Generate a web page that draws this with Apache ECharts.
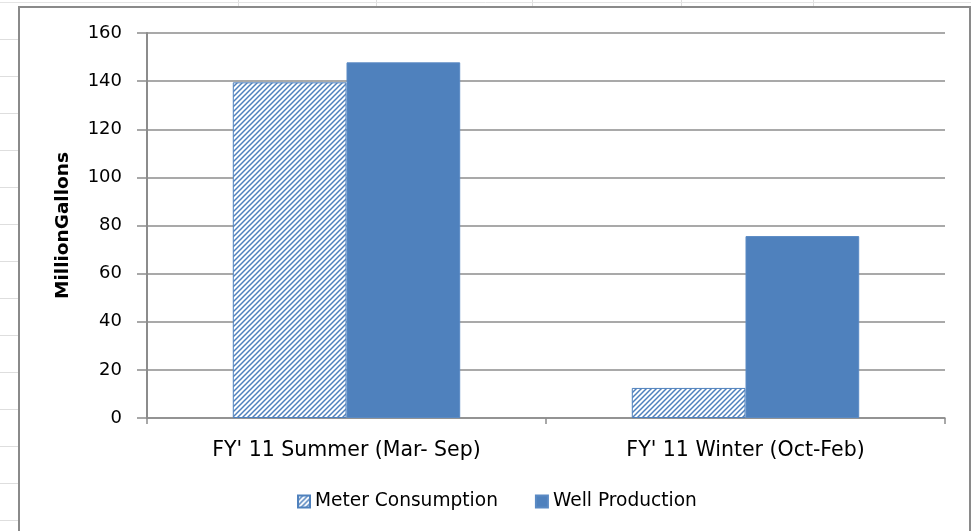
<!DOCTYPE html>
<html>
<head>
<meta charset="utf-8">
<script src="https://cdn.jsdelivr.net/npm/echarts@6/dist/echarts.min.js"></script>
<style>
  html, body { margin: 0; padding: 0; background: #fff; }
  #chart { width: 971px; height: 531px; }
</style>
</head>
<body>
<div id="chart"></div>
<script>
// Seasonal water volumes, million gallons
const categories = ['FY\' 11 Summer (Mar- Sep)', 'FY\' 11 Winter (Oct-Feb)'];
const meterConsumption = [139.5, 12.5];
const wellProduction = [147.8, 75.6];
const yTicks = { min: 0, max: 160, interval: 20 };

const BLUE = '#4F81BD';
const GRID_GRAY = '#8c8c8c';
const FONT = 'DejaVu Sans';

// Diagonal hatch tile (///) for the metered series
function hatchPattern() {
  const s = 5;
  const c = document.createElement('canvas');
  c.width = s; c.height = s;
  const g = c.getContext('2d');
  g.fillStyle = '#ffffff';
  g.fillRect(0, 0, s, s);
  g.strokeStyle = BLUE;
  g.lineWidth = 1.5;
  g.beginPath();
  g.moveTo(-1, s + 1); g.lineTo(s + 1, -1);
  g.moveTo(-1, 1); g.lineTo(1, -1);
  g.moveTo(s - 1, s + 1); g.lineTo(s + 1, s - 1);
  g.stroke();
  return { image: c, repeat: 'repeat' };
}

// Faint worksheet cell lines around the chart frame
const sheetLines = [];
for (let y = 2; y < 531; y += 37) {
  sheetLines.push({ type: 'line', shape: { x1: 0, y1: y + 0.5, x2: 18, y2: y + 0.5 },
    style: { stroke: '#dedede', lineWidth: 1 }, silent: true });
}
[238, 376, 532, 681, 813].forEach(function (x) {
  sheetLines.push({ type: 'line', shape: { x1: x + 0.5, y1: 0, x2: x + 0.5, y2: 6 },
    style: { stroke: '#dedede', lineWidth: 1 }, silent: true });
});
sheetLines.push({ type: 'line', shape: { x1: 0, y1: 2.5, x2: 971, y2: 2.5 },
  style: { stroke: '#e4e4e4', lineWidth: 1 }, silent: true });

const chart = echarts.init(document.getElementById('chart'));
chart.setOption({
  animation: false,
  backgroundColor: '#ffffff',
  graphic: sheetLines.concat([
    { type: 'rect', shape: { x: 19, y: 7, width: 951, height: 530 },
      style: { fill: 'none', stroke: '#8a8a8a', lineWidth: 2 }, silent: true, z: 10 }
  ]),
  grid: { left: 147, right: 26, top: 33, bottom: 113, containLabel: false },
  legend: {
    bottom: 15,
    left: 292,
    itemWidth: 12,
    itemHeight: 12,
    itemGap: 37,
    icon: 'rect',
    textStyle: { fontFamily: FONT, fontSize: 18.6, color: '#000' },
    data: ['Meter Consumption', 'Well Production']
  },
  xAxis: {
    type: 'category',
    data: categories,
    boundaryGap: true,
    axisLine: { lineStyle: { color: GRID_GRAY, width: 1.5 } },
    axisTick: { show: true, alignWithLabel: false, length: 6, lineStyle: { color: GRID_GRAY, width: 1.5 } },
    axisLabel: { margin: 22, fontFamily: FONT, fontSize: 20.5, color: '#000' }
  },
  yAxis: {
    type: 'value',
    min: yTicks.min,
    max: yTicks.max,
    interval: yTicks.interval,
    name: 'MillionGallons',
    nameLocation: 'middle',
    nameGap: 74,
    nameTextStyle: { fontFamily: FONT, fontSize: 18.5, fontWeight: 'bold', color: '#000' },
    axisLine: { show: true, lineStyle: { color: GRID_GRAY, width: 2 } },
    axisTick: { show: true, inside: false, length: 10, lineStyle: { color: GRID_GRAY, width: 1.5 } },
    axisLabel: { margin: 25, fontFamily: FONT, fontSize: 18, color: '#000' },
    splitLine: { show: true, lineStyle: { color: GRID_GRAY, width: 1.5 } }
  },
  series: [
    {
      name: 'Meter Consumption',
      type: 'bar',
      data: meterConsumption,
      barGap: '0%',
      barCategoryGap: '43%',
      itemStyle: { color: hatchPattern(), borderColor: BLUE, borderWidth: 1 }
    },
    {
      name: 'Well Production',
      type: 'bar',
      data: wellProduction,
      barGap: '0%',
      barCategoryGap: '43%',
      itemStyle: { color: BLUE, borderColor: '#5a8ac4', borderWidth: 1 }
    }
  ]
});
</script>
</body>
</html>
